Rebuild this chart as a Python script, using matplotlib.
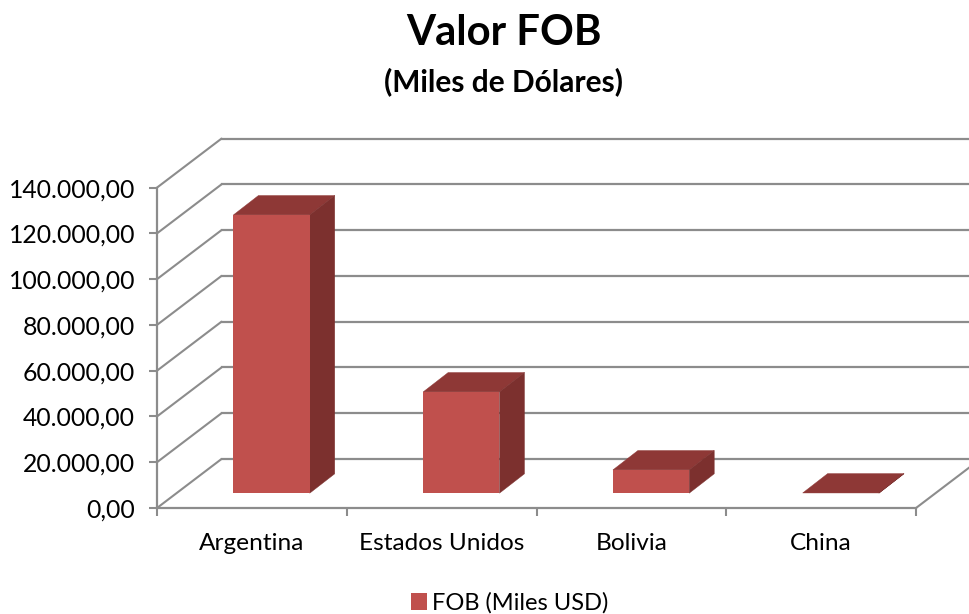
import matplotlib
matplotlib.use("Agg")
import matplotlib.pyplot as plt
from matplotlib.patches import Polygon

categories = ["Argentina", "Estados Unidos", "Bolivia", "China"]
values = [121600, 44260, 10180, 100]
y_ticks = [0, 20000, 40000, 60000, 80000, 100000, 120000, 140000]
y_labels = ["0,00", "20.000,00", "40.000,00", "60.000,00", "80.000,00",
            "100.000,00", "120.000,00", "140.000,00"]
series_name = "FOB (Miles USD)"
title_text = "Valor FOB"
subtitle_text = "(Miles de Dólares)"

W, H = 969, 614
plt.rcParams["font.family"] = ["Lato", "DejaVu Sans"]
fig = plt.figure(figsize=(W / 100, H / 100), dpi=100, facecolor="white")
ax = fig.add_axes([157 / W, 1 - 508 / H, (916 - 157) / W, (508 - 187.6) / H])
ax.set_xlim(0, len(categories))
ax.set_ylim(y_ticks[0], y_ticks[-1])

GRID = "#8C8C8C"
FRONT, TOP, SIDE = "#C0504D", "#8E3836", "#7C302E"
px_x = len(categories) / (916 - 157)
px_y = y_ticks[-1] / (508 - 187.6)
wall_dx, wall_dy = 64.5 * px_x, 49 * px_y
floor_dx, floor_dy = 19.7 * px_x, 14.8 * px_y
bar_dx, bar_dy = 25 * px_x, 19.4 * px_y
bar_w = 76.3 * px_x

# walls: gridlines on the back plane, and the connectors to the front axis
for t in y_ticks:
    ax.plot([0, wall_dx], [t, t + wall_dy], color=GRID, lw=1.5, clip_on=False, zorder=1,
            solid_capstyle="round")
    ax.plot([wall_dx, len(categories) + wall_dx], [t + wall_dy] * 2, color=GRID, lw=1.6,
            clip_on=False, zorder=1)
n = len(categories)
ax.plot([n, n + wall_dx], [0, wall_dy], color=GRID, lw=1.5, clip_on=False, zorder=1)

# bars
centers = [i + 0.5 + floor_dx for i in range(n)]
bars = ax.bar(centers, values, width=bar_w, bottom=floor_dy, color=FRONT, zorder=4,
              label=series_name, clip_on=False)
for c, v in zip(centers, values):
    l, r = c - bar_w / 2, c + bar_w / 2
    top = floor_dy + v
    ax.add_patch(Polygon([(l, top), (r, top), (r + bar_dx, top + bar_dy), (l + bar_dx, top + bar_dy)],
                         closed=True, fc=TOP, ec=TOP, lw=0.3, zorder=3, clip_on=False))
    ax.add_patch(Polygon([(r, floor_dy), (r, top), (r + bar_dx, top + bar_dy), (r + bar_dx, floor_dy + bar_dy)],
                         closed=True, fc=SIDE, ec=SIDE, lw=0.3, zorder=3, clip_on=False))

for s in ("top", "right"):
    ax.spines[s].set_visible(False)
for s in ("left", "bottom"):
    ax.spines[s].set_color(GRID)
    ax.spines[s].set_linewidth(1.6)
ax.patch.set_alpha(0)

ax.set_yticks(y_ticks, y_labels)
ax.set_xticks(range(n + 1), [""] * (n + 1))
ax.set_xticks([i + 0.5 for i in range(n)], categories, minor=True)
ax.tick_params(axis="both", which="major", color=GRID, width=1.5, length=5.8)
ax.tick_params(axis="y", labelsize=17.8, pad=10, labelcolor="black")
ax.tick_params(axis="x", which="minor", length=0, labelsize=17.6, pad=18, labelcolor="black")

fig.text(504 / W, 1 - 33 / H, title_text, ha="center", va="center", fontsize=30.2, fontweight="bold")
fig.text(504 / W, 1 - 82 / H, subtitle_text, ha="center", va="center", fontsize=21.5, fontweight="bold")

h, l = ax.get_legend_handles_labels()
fig.legend(h, l, loc="center", bbox_to_anchor=(509.5 / W, 1 - 603 / H), frameon=False, fontsize=17,
           handlelength=0.68, handleheight=0.68, handletextpad=0.22, borderpad=0, borderaxespad=0)

fig.savefig("out.png", dpi=100, facecolor="white")
